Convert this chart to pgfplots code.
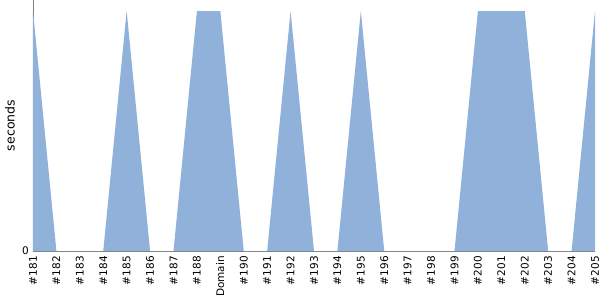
\documentclass[border=0pt]{standalone}
\usepackage{pgfplots}
\pgfplotsset{compat=1.18}
\usepackage{fontspec}
\setmainfont{DejaVu Sans}
\definecolor{areablue}{RGB}{143,177,218}
\definecolor{axgray}{RGB}{128,128,128}
\begin{document}
\begin{tikzpicture}[x=1pt,y=1pt]
\begin{axis}[
  name=ax,
  scale only axis,
  width=562pt, height=251pt,
  xmin=181, xmax=205,
  ymin=0, ymax=1.046,
  axis x line*=bottom,
  axis y line*=left,
  axis line style={axgray, line width=0.8pt},
  xtick={181,...,205},
  xticklabels={\#181,\#182,\#183,\#184,\#185,\#186,\#187,\#188,Domain,\#190,\#191,\#192,\#193,\#194,\#195,\#196,\#197,\#198,\#199,\#200,\#201,\#202,\#203,\#204,\#205},
  xticklabel style={rotate=90, anchor=east, font=\fontsize{10.5}{11}\selectfont, inner sep=1pt, xshift=-4pt},
  ytick={0},
  yticklabel style={font=\fontsize{10.5}{11}\selectfont, inner sep=1pt, xshift=-3pt},
  /pgf/number format/assume math mode=true,
  major tick length=0pt,
  tick style={draw=none},
  ylabel={seconds},
  ylabel style={font=\fontsize{12.5}{13}\selectfont, at={(axis description cs:0,0.5)}, anchor=center, yshift=23pt},
  clip=false,
]
\addplot[fill=areablue, draw=none] coordinates {
(181,1) (182,0) (183,0) (184,0) (185,1) (186,0) (187,0) (188,1) (189,1) (190,0)
(191,0) (192,1) (193,0) (194,0) (195,1) (196,0) (197,0) (198,0) (199,0) (200,1)
(201,1) (202,1) (203,0) (204,0) (205,1)
} \closedcycle;
\end{axis}
\pgfresetboundingbox
\path ([shift={(-33pt,-49pt)}]ax.south west) rectangle ([shift={(5pt,0pt)}]ax.north east);
\end{tikzpicture}
\end{document}
